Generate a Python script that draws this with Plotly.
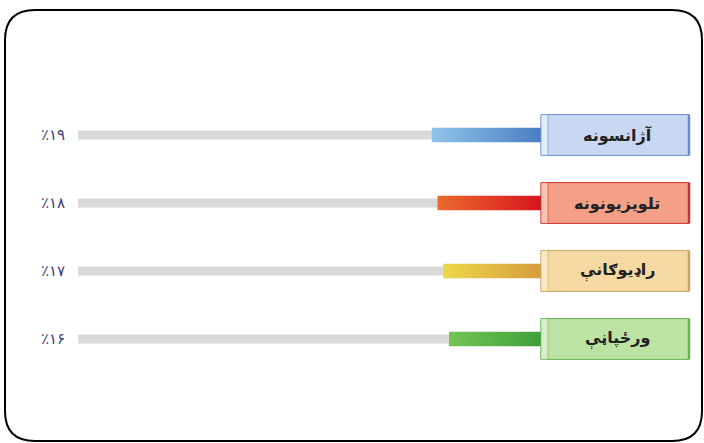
import plotly.graph_objects as go

# ---- data ----
categories = ["آژانسونه", "تلویزیونونه", "راډیوګانې", "ورځپاڼې"]
values = [19, 18, 17, 16]
pct_labels = ["٪۱۹", "٪۱۸", "٪۱۷", "٪۱۶"]
track_max = 80.5

# ---- styles ----
bar_dark = ["#4a7ec0", "#d8141e", "#d89c3c", "#3fa03c"]
bar_light = ["#90c4ec", "#ea6a2c", "#ecd84a", "#74c454"]
box_fill = ["#c9d8f2", "#f3a086", "#f5d9a2", "#bde3a4"]
box_strip = ["#e2ebf8", "#f8c4b2", "#f9e8c4", "#d8efc8"]
box_line = ["#6a8cce", "#c83232", "#c9a466", "#66b456"]

W, H = 704, 443
PX_PER = 5.75      # pixels per percent
ZERO_PX = 541      # where the bars end (left edge of label box)
ROW0_PX, ROW_STEP = 135, 68

x_left = ZERO_PX / PX_PER
x_right = -(W - ZERO_PX) / PX_PER
y_top = -ROW0_PX / ROW_STEP
y_bot = (H - ROW0_PX) / ROW_STEP

fig = go.Figure()

ys = list(range(len(categories)))

# gray tracks
fig.add_trace(go.Bar(
    x=[track_max] * len(ys), y=ys, orientation="h", width=0.13,
    marker=dict(color="#d9d9d9", line=dict(width=0)),
    hoverinfo="skip", showlegend=False))

bh = 0.105
box_w = 148 / PX_PER
strip_w = 7 / PX_PER
box_h = 0.30
for i, (cat, v) in enumerate(zip(categories, values)):
    # gradient coloured bar
    fig.add_trace(go.Scatter(
        x=[0, v, v, 0, 0], y=[i - bh, i - bh, i + bh, i + bh, i - bh],
        mode="lines", fill="toself", line=dict(width=0),
        fillgradient=dict(type="horizontal",
                          colorscale=[[0, bar_light[i]], [1, bar_dark[i]]]),
        hoverinfo="skip", showlegend=False))
    # label box
    fig.add_trace(go.Scatter(
        x=[0, -box_w, -box_w, 0, 0], y=[i - box_h, i - box_h, i + box_h, i + box_h, i - box_h],
        mode="lines", fill="toself",
        fillcolor=box_fill[i], line=dict(color=box_line[i], width=1),
        hoverinfo="skip", showlegend=False))
    # lighter folded strip on the left of the box
    fig.add_trace(go.Scatter(
        x=[0, -strip_w, -strip_w, 0, 0], y=[i - box_h, i - box_h, i + box_h, i + box_h, i - box_h],
        mode="lines", fill="toself",
        fillcolor=box_strip[i], line=dict(color=box_line[i], width=0.6),
        hoverinfo="skip", showlegend=False))
    # darker right edge
    fig.add_trace(go.Scatter(
        x=[-box_w, -box_w], y=[i - box_h, i + box_h], mode="lines",
        line=dict(color=box_line[i], width=2.5),
        hoverinfo="skip", showlegend=False))
    fig.add_annotation(x=-box_w / 2 - 0.4, y=i, text=cat, showarrow=False,
                       font=dict(family="DejaVu Sans", size=16, color="#222222",
                                 weight="bold"),
                       xanchor="center", yanchor="middle")
    fig.add_annotation(x=53 / W, xref="paper", y=i, text=pct_labels[i],
                       showarrow=False,
                       font=dict(family="DejaVu Sans", size=15, color="#3b3b7a"),
                       xanchor="center", yanchor="middle")

# rounded frame
L, T, R, B, r = 5, 10, 702, 441, 30
def px(x):
    return x / W
def py(y):
    return 1 - y / H
path = (f"M {px(L+r)},{py(T)} L {px(R-r)},{py(T)} Q {px(R)},{py(T)} {px(R)},{py(T+r)} "
        f"L {px(R)},{py(B-r)} Q {px(R)},{py(B)} {px(R-r)},{py(B)} "
        f"L {px(L+r)},{py(B)} Q {px(L)},{py(B)} {px(L)},{py(B-r)} "
        f"L {px(L)},{py(T+r)} Q {px(L)},{py(T)} {px(L+r)},{py(T)} Z")
fig.add_shape(type="path", path=path, xref="paper", yref="paper",
              line=dict(color="#000000", width=2), fillcolor="rgba(0,0,0,0)")

fig.update_layout(
    width=W, height=H, margin=dict(l=0, r=0, t=0, b=0),
    paper_bgcolor="white", plot_bgcolor="white",
    xaxis=dict(range=[x_left, x_right], visible=False, fixedrange=True),
    yaxis=dict(range=[y_bot, y_top], visible=False, fixedrange=True),
    showlegend=False, barmode="overlay")

fig.write_html("out.html", config=dict(displayModeBar=False),
               post_script="document.body.style.margin='0';document.body.style.overflow='hidden';")
